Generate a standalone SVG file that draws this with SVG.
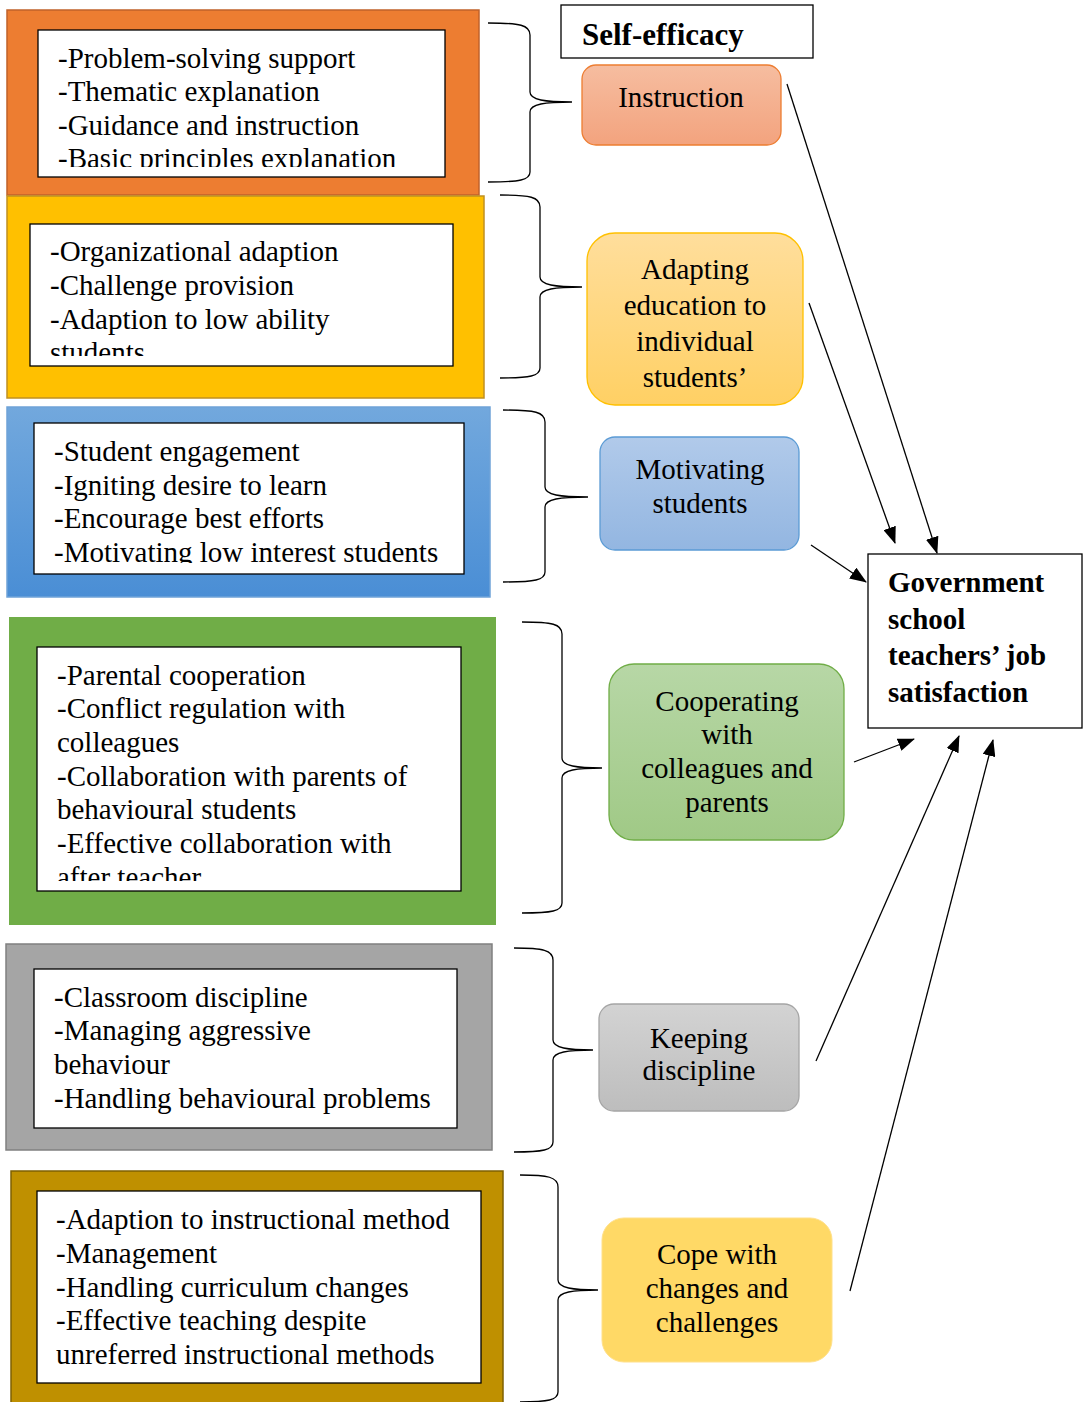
<svg xmlns="http://www.w3.org/2000/svg" width="1085" height="1402" viewBox="0 0 1085 1402">
<style>
.t{font-family:"Liberation Serif","Times New Roman",serif;font-size:29px;fill:#000}
.c{text-anchor:middle}
.b{font-weight:bold}
.inner{fill:#fff;stroke:#000;stroke-width:1.3}
.br{fill:none;stroke:#000;stroke-width:1.3}
.ar{fill:none;stroke:#000;stroke-width:1.3;marker-end:url(#ah)}
</style>
<defs>
<marker id="ah" viewBox="0 0 17 13" refX="16" refY="6.5" markerWidth="17" markerHeight="13" markerUnits="userSpaceOnUse" orient="auto">
<path d="M0,0 L17,6.5 L0,13 Z" fill="#000"/>
</marker>
<linearGradient id="gBlueOut" x1="0" y1="0" x2="0" y2="1"><stop offset="0" stop-color="#72A8DD"/><stop offset="1" stop-color="#4A8ED5"/></linearGradient>
<linearGradient id="gInstr" x1="0" y1="0" x2="0" y2="1"><stop offset="0" stop-color="#F6BDA0"/><stop offset="1" stop-color="#F3A37E"/></linearGradient>
<linearGradient id="gAdapt" x1="0" y1="0" x2="0" y2="1"><stop offset="0" stop-color="#FFDE9C"/><stop offset="1" stop-color="#FFD064"/></linearGradient>
<linearGradient id="gMot" x1="0" y1="0" x2="0" y2="1"><stop offset="0" stop-color="#B1CAEA"/><stop offset="1" stop-color="#93B6E1"/></linearGradient>
<linearGradient id="gCoop" x1="0" y1="0" x2="0" y2="1"><stop offset="0" stop-color="#B7D7A6"/><stop offset="1" stop-color="#A0C986"/></linearGradient>
<linearGradient id="gKeep" x1="0" y1="0" x2="0" y2="1"><stop offset="0" stop-color="#D3D3D3"/><stop offset="1" stop-color="#BDBDBD"/></linearGradient>
<clipPath id="cp1"><rect x="38" y="30" width="407" height="137"/></clipPath>
<clipPath id="cp2"><rect x="30" y="224" width="423" height="132"/></clipPath>
<clipPath id="cp3"><rect x="34" y="423" width="430" height="140"/></clipPath>
<clipPath id="cp4"><rect x="37" y="647" width="424" height="234"/></clipPath>
</defs>
<rect width="1085" height="1402" fill="#fff"/>

<g id="box-instruction-items">
<rect x="7" y="10" width="472" height="185" fill="#ED7D31" stroke="#C0622A" stroke-width="1.5"/>
<rect class="inner" x="38" y="30" width="407" height="147"/>
<g clip-path="url(#cp1)" class="t">
<text x="58" y="68">-Problem-solving support</text>
<text x="58" y="101">-Thematic explanation</text>
<text x="58" y="135">-Guidance and instruction</text>
<text x="58" y="168">-Basic principles explanation</text>
</g>
</g>

<g id="box-adapting-items">
<rect x="7" y="196" width="477" height="202" fill="#FFC000" stroke="#C09020" stroke-width="1.5"/>
<rect class="inner" x="30" y="224" width="423" height="142"/>
<g clip-path="url(#cp2)" class="t">
<text x="50" y="261">-Organizational adaption</text>
<text x="50" y="295">-Challenge provision</text>
<text x="50" y="329">-Adaption to low ability</text>
<text x="50" y="362">students</text>
</g>
</g>

<g id="box-motivating-items">
<rect x="7" y="407" width="483" height="190" fill="url(#gBlueOut)" stroke="#6FA3D8" stroke-width="1.5"/>
<rect class="inner" x="34" y="423" width="430" height="151"/>
<g clip-path="url(#cp3)" class="t">
<text x="54" y="461">-Student engagement</text>
<text x="54" y="495">-Igniting desire to learn</text>
<text x="54" y="528">-Encourage best efforts</text>
<text x="54" y="562">-Motivating low interest students</text>
</g>
</g>

<g id="box-cooperating-items">
<rect x="9" y="617" width="487" height="308" fill="#70AD47"/>
<rect class="inner" x="37" y="647" width="424" height="244"/>
<g clip-path="url(#cp4)" class="t">
<text x="57" y="685">-Parental cooperation</text>
<text x="57" y="718">-Conflict regulation with</text>
<text x="57" y="752">colleagues</text>
<text x="57" y="786">-Collaboration with parents of</text>
<text x="57" y="819">behavioural students</text>
<text x="57" y="853">-Effective collaboration with</text>
<text x="57" y="887">after teacher</text>
</g>
</g>

<g id="box-discipline-items">
<rect x="6" y="944" width="486" height="206" fill="#A5A5A5" stroke="#808080" stroke-width="1.5"/>
<rect class="inner" x="34" y="969" width="423" height="159"/>
<g class="t">
<text x="54" y="1007">-Classroom discipline</text>
<text x="54" y="1040">-Managing aggressive</text>
<text x="54" y="1074">behaviour</text>
<text x="54" y="1108">-Handling behavioural problems</text>
</g>
</g>

<g id="box-cope-items">
<rect x="11" y="1171" width="492" height="240" fill="#BF9000" stroke="#7F6000" stroke-width="1.5"/>
<rect class="inner" x="37" y="1191" width="444" height="192"/>
<g class="t">
<text x="56" y="1229">-Adaption to instructional method</text>
<text x="56" y="1263">-Management</text>
<text x="56" y="1297">-Handling curriculum changes</text>
<text x="56" y="1330">-Effective teaching despite</text>
<text x="56" y="1364">unreferred instructional methods</text>
</g>
</g>

<g id="brackets">
<path class="br" d="M488,23 C520,23 530,25 530,35 L530,92 C530,100 545,102 572,102 C545,102 530,104 530,112 L530,172 C530,180 520,182 488,182"/>
<path class="br" d="M500,195 C530,195 540,197 540,207 L540,277 C540,285 555,287 582,287 C555,287 540,289 540,297 L540,368 C540,376 530,378 500,378"/>
<path class="br" d="M503,410 C535,410 545,412 545,422 L545,487 C545,495 560,497 588,497 C560,497 545,499 545,507 L545,572 C545,580 535,582 503,582"/>
<path class="br" d="M522,622 C552,622 562,624 562,634 L562,758 C562,766 577,768 602,768 C577,768 562,770 562,778 L562,903 C562,911 552,913 522,913"/>
<path class="br" d="M514,948 C543,948 553,950 553,960 L553,1040 C553,1048 568,1050 593,1050 C568,1050 553,1052 553,1060 L553,1142 C553,1150 543,1152 514,1152"/>
<path class="br" d="M520,1175 C548,1175 558,1177 558,1187 L558,1280 C558,1288 573,1290 598,1290 C573,1290 558,1292 558,1300 L558,1392 C558,1400 548,1402 520,1402"/>
</g>

<g id="title">
<rect x="561" y="5" width="252" height="53" fill="#fff" stroke="#000" stroke-width="1.3"/>
<text class="t b" x="582" y="45" style="font-size:31px">Self-efficacy</text>
</g>

<g id="node-instruction">
<rect x="582" y="65" width="199" height="80" rx="14" fill="url(#gInstr)" stroke="#ED7D31" stroke-width="1.3"/>
<text class="t c" x="681" y="107">Instruction</text>
</g>

<g id="node-adapting">
<rect x="587" y="233" width="216" height="172" rx="28" fill="url(#gAdapt)" stroke="#FFC000" stroke-width="1.3"/>
<text class="t c" x="695" y="279">Adapting</text>
<text class="t c" x="695" y="315">education to</text>
<text class="t c" x="695" y="351">individual</text>
<text class="t c" x="695" y="387">students’</text>
</g>

<g id="node-motivating">
<rect x="600" y="437" width="199" height="113" rx="15" fill="url(#gMot)" stroke="#5B9BD5" stroke-width="1.3"/>
<text class="t c" x="700" y="479">Motivating</text>
<text class="t c" x="700" y="513">students</text>
</g>

<g id="node-cooperating">
<rect x="609" y="664" width="235" height="176" rx="25" fill="url(#gCoop)" stroke="#70AD47" stroke-width="1.3"/>
<text class="t c" x="727" y="711">Cooperating</text>
<text class="t c" x="727" y="744">with</text>
<text class="t c" x="727" y="778">colleagues and</text>
<text class="t c" x="727" y="812">parents</text>
</g>

<g id="node-discipline">
<rect x="599" y="1004" width="200" height="107" rx="15" fill="url(#gKeep)" stroke="#A5A5A5" stroke-width="1.3"/>
<text class="t c" x="699" y="1048">Keeping</text>
<text class="t c" x="699" y="1080">discipline</text>
</g>

<g id="node-cope">
<rect x="602" y="1218" width="230" height="144" rx="22" fill="#FFD966" stroke="#FFE08A" stroke-width="1"/>
<text class="t c" x="717" y="1264">Cope with</text>
<text class="t c" x="717" y="1298">changes and</text>
<text class="t c" x="717" y="1332">challenges</text>
</g>

<g id="node-satisfaction">
<rect x="868" y="554" width="214" height="174" fill="#fff" stroke="#000" stroke-width="1.3"/>
<text class="t b" x="888" y="592">Government</text>
<text class="t b" x="888" y="629">school</text>
<text class="t b" x="888" y="665">teachers’ job</text>
<text class="t b" x="888" y="702">satisfaction</text>
</g>

<g id="connectors">
<line class="ar" x1="787" y1="84" x2="937" y2="553"/>
<line class="ar" x1="809" y1="303" x2="895" y2="543"/>
<line class="ar" x1="811" y1="545" x2="866" y2="582"/>
<line class="ar" x1="854" y1="762" x2="914" y2="739"/>
<line class="ar" x1="816" y1="1061" x2="959" y2="736"/>
<line class="ar" x1="850" y1="1291" x2="993" y2="740"/>
</g>
</svg>
